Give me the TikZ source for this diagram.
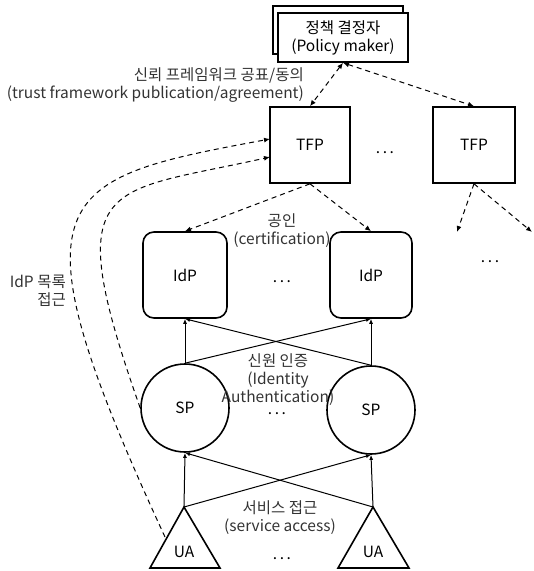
\documentclass[tikz,border=0pt]{standalone}
\usepackage{fontspec}
\setmainfont{Noto Sans CJK KR}
\usetikzlibrary{arrows.meta}
\newcommand{\mydots}{.\hspace{2.6pt}.\hspace{2.6pt}.}
\begin{document}
\begin{tikzpicture}[x=1pt,y=-1pt,
  font=\fontsize{15.5}{18}\selectfont,
  shapebox/.style={draw, line width=1.6pt, fill=white, inner sep=0pt},
  lbl/.style={text=black!80, inner sep=0pt},
  dotsnode/.style={inner sep=0pt, text height=2.5pt, text depth=0pt},
  dashcon/.style={line width=1pt, dash pattern=on 5pt off 4pt, -{Latex[length=6pt,width=5pt]}},
  dashboth/.style={line width=1pt, dash pattern=on 5pt off 4pt, {Latex[length=6pt,width=5pt]}-{Latex[length=6pt,width=5pt]}},
  solidcon/.style={line width=1pt, -{Latex[length=5pt,width=4pt]}}
]
\useasboundingbox (0,0) rectangle (534,571);

% policy maker (stacked)
\node[shapebox, minimum width=130pt, minimum height=48pt] (pmback) at (338,30) {};
\node[shapebox, minimum width=130pt, minimum height=49pt, align=center] (pm) at (343,37.5) {정책 결정자\\(Policy maker)};

% TFPs
\node[shapebox, minimum width=80pt, minimum height=76pt] (tfp1) at (310,145) {TFP};
\node[shapebox, minimum width=82pt, minimum height=76pt] (tfp2) at (474,145) {TFP};
\node[dotsnode] (dots1) at (385,152) {\mydots};

% IdPs
\node[shapebox, rounded corners=11pt, minimum width=84pt, minimum height=86pt] (idp1) at (185,275) {IdP};
\node[shapebox, rounded corners=11pt, minimum width=82pt, minimum height=86pt] (idp2) at (371,275) {IdP};
\node[dotsnode] (dots2) at (282,281) {\mydots};

% SPs
\node[shapebox, circle, minimum size=88pt] (sp1) at (185,408) {SP};
\node[shapebox, circle, minimum size=88pt] (sp2) at (371,410) {SP};
\node[dotsnode] (dots3) at (277,413) {\mydots};

% UAs
\coordinate (ua1) at (184,507);
\coordinate (ua2) at (373,507);
\draw[line width=1.6pt, line join=miter] (ua1) -- (220,568) -- (150,568) -- cycle;
\draw[line width=1.6pt, line join=miter] (ua2) -- (409,568) -- (338,568) -- cycle;
\node[inner sep=0pt] (ua1t) at (184,552) {UA};
\node[inner sep=0pt] (ua2t) at (373,552) {UA};
\node[dotsnode] (dots4) at (282,558) {\mydots};
\coordinate (ua1side) at (165,537);

% labels
\node[lbl, align=right, anchor=east] (lbltf) at (304,85) {신뢰 프레임워크 공표/동의\\(trust framework publication/agreement)};
\node[lbl, align=center] (lblcert) at (282,231) {공인\\(certification)};
\node[lbl, align=center] (lblauth) at (278,380) {신원 인증\\(Identity\\Authentication)};
\node[lbl, align=center] (lblsvc) at (280,518) {서비스 접근\\(service access)};
\node[lbl, align=right, anchor=east] (lblidp) at (66,291) {IdP 목록\\접근};

% policy maker <-> TFP
\draw[dashboth] (pm.south) -- (tfp1.north);
\draw[dashboth] (pm.south) -- (tfp2.north);

% TFP -> IdP
\draw[dashcon] (tfp1.south) -- (idp1.north);
\draw[dashcon] (tfp1.south) -- (idp2.north);
\coordinate (out1) at (457,232);
\coordinate (out2) at (532,232);
\draw[dashcon] (tfp2.south) -- (out1);
\draw[dashcon] (tfp2.south) -- (out2);
\node[dotsnode] (dots5) at (490,261) {\mydots};

% SP -> IdP
\draw[solidcon] (sp1.north) -- (idp1.south);
\draw[solidcon] (sp1.north) -- (idp2.south);
\draw[solidcon] (sp2.north) -- (idp2.south);
\draw[solidcon] (sp2.north) -- (idp1.south);

% UA -> SP
\draw[solidcon] (ua1) -- (sp1.south);
\draw[solidcon] (ua1) -- (sp2.south);
\draw[solidcon] (ua2) -- (sp2.south);
\draw[solidcon] (ua2) -- (sp1.south);

% IdP list access curves
\coordinate (tfpin1) at (270,139);
\coordinate (tfpin2) at (270,157);
\draw[dashcon] (ua1side) .. controls (5,191) and (54,179) .. (tfpin1);
\draw[dashcon] (sp1.west) .. controls (58,175) and (105,194) .. (tfpin2);
\end{tikzpicture}
\end{document}
